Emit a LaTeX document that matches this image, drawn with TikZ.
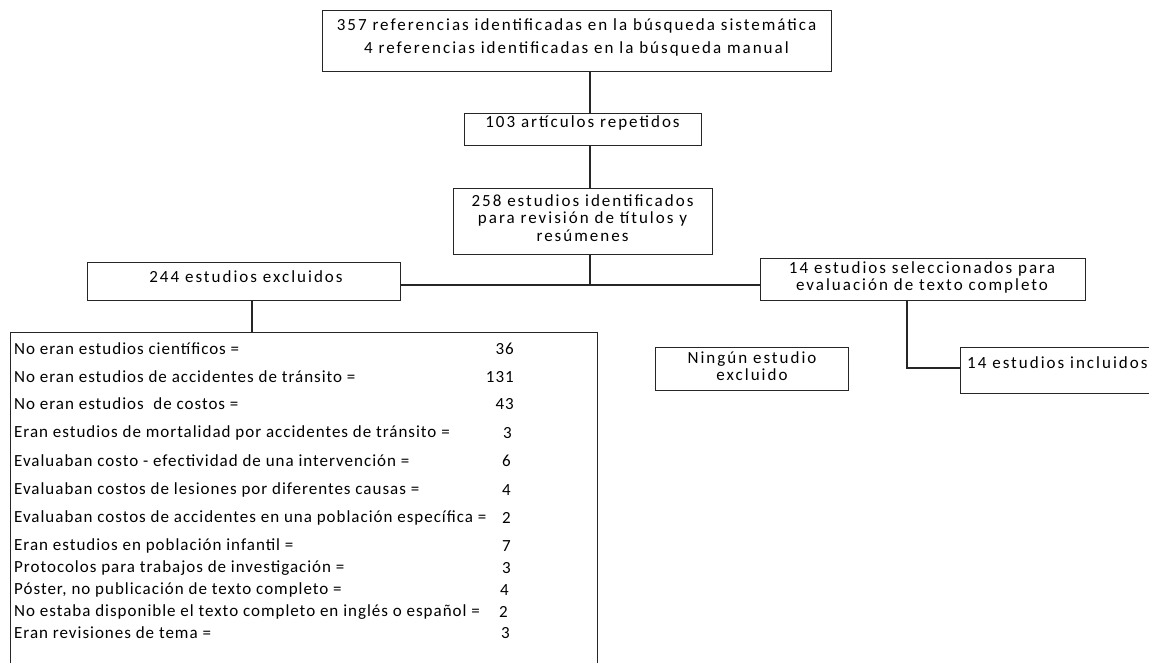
\documentclass[tikz,border=0pt]{standalone}
\usepackage{fontspec}
\setmainfont{Carlito}
\newfontfamily\spfont{Carlito}[LetterSpace=11.8]
\newfontfamily\lsfont{Carlito}[LetterSpace=5.8]
\begin{document}
\begin{tikzpicture}[x=1pt,y=-1pt,
  box/.style={draw=black!85, line width=1.1pt, inner sep=0pt, anchor=north west},
  conn/.style={draw=black!85, line width=1.1pt},
  lab/.style={font=\spfont\fontsize{17}{17.5}\selectfont, align=center, inner sep=0pt},
  item/.style={font=\lsfont\fontsize{17}{17}\selectfont, anchor=west, inner sep=0pt},
  num/.style={font=\lsfont\fontsize{17}{17}\selectfont, anchor=east, inner sep=0pt}]
\useasboundingbox (0,0) rectangle (1149,662);
\clip (0,0) rectangle (1149,662);
% boxes
\node[box, minimum width=509, minimum height=61] (top) at (322,10) {};
\node[box, minimum width=237, minimum height=32] (rep) at (464,113) {};
\node[box, minimum width=259, minimum height=66] (ident) at (453,188) {};
\node[box, minimum width=313, minimum height=38] (excl) at (87,262) {};
\node[box, minimum width=325, minimum height=42] (sel) at (760,258) {};
\node[box, minimum width=587, minimum height=345] (lst) at (10,332) {};
\node[box, minimum width=193, minimum height=43] (ning) at (655,347) {};
\node[box, minimum width=200, minimum height=46] (incl) at (960,347) {};
% labels
\node[lab] (ttop) at (576.5,37.5) {357 referencias identificadas en la búsqueda sistemática\\[6pt]4 referencias identificadas en la búsqueda manual};
\node[lab] (trep) at (582.5,123) {103 artículos repetidos};
\node[lab] (tident) at (582.5,218) {258 estudios identificados\\para revisión de títulos y\\resúmenes};
\node[lab] (texcl) at (246,277) {244 estudios excluidos};
\node[lab] (tsel) at (922,277.5) {14 estudios seleccionados para\\evaluación de texto completo};
\node[lab] (tning) at (752,366) {Ningún estudio\\excluido};
\node[lab, anchor=west] (tincl) at (967,363) {14 estudios incluidos};
% list
\node[item] (r1) at (14,349) {No eran estudios científicos =};
\node[item] (r2) at (14,377) {No eran estudios de accidentes de tránsito =};
\node[item] (r3) at (14,404) {No eran estudios\ \ de costos =};
\node[item] (r4) at (14,433) {Eran estudios de mortalidad por accidentes de tránsito =};
\node[item] (r5) at (14,461) {Evaluaban costo - efectividad de una intervención =};
\node[item] (r6) at (14,490) {Evaluaban costos de lesiones por diferentes causas =};
\node[item] (r7) at (14,518) {Evaluaban costos de accidentes en una población específica =};
\node[item] (r8) at (14,546) {Eran estudios en población infantil =};
\node[item] (r9) at (14,568) {Protocolos para trabajos de investigación =};
\node[item] (r10) at (14,590) {Póster, no publicación de texto completo =};
\node[item] (r11) at (14,612) {No estaba disponible el texto completo en inglés o español =};
\node[item] (r12) at (14,633) {Eran revisiones de tema =};
\node[num] (n1) at (514,349) {36};
\node[num] (n2) at (514,377) {131};
\node[num] (n3) at (514,404) {43};
\node[num] (n4) at (512,433) {3};
\node[num] (n5) at (511,461) {6};
\node[num] (n6) at (511,490) {4};
\node[num] (n7) at (511,518) {2};
\node[num] (n8) at (511,546) {7};
\node[num] (n9) at (511,568) {3};
\node[num] (n10) at (509,590) {4};
\node[num] (n11) at (508,612) {2};
\node[num] (n12) at (510,633) {3};
% connectors
\coordinate (j) at (590,285);
\draw[conn] (top.south -| j) -- (rep.north -| j);
\draw[conn] (rep.south -| j) -- (ident.north -| j);
\draw[conn] (ident.south -| j) -- (j);
\draw[conn] (excl.east |- j) -- (sel.west |- j);
\draw[conn] (excl.south -| 252,0) -- (lst.north -| 252,0);
\coordinate (k) at (907,368);
\draw[conn] (sel.south -| k) -- (k) -- (incl.west |- k);
\end{tikzpicture}
\end{document}
